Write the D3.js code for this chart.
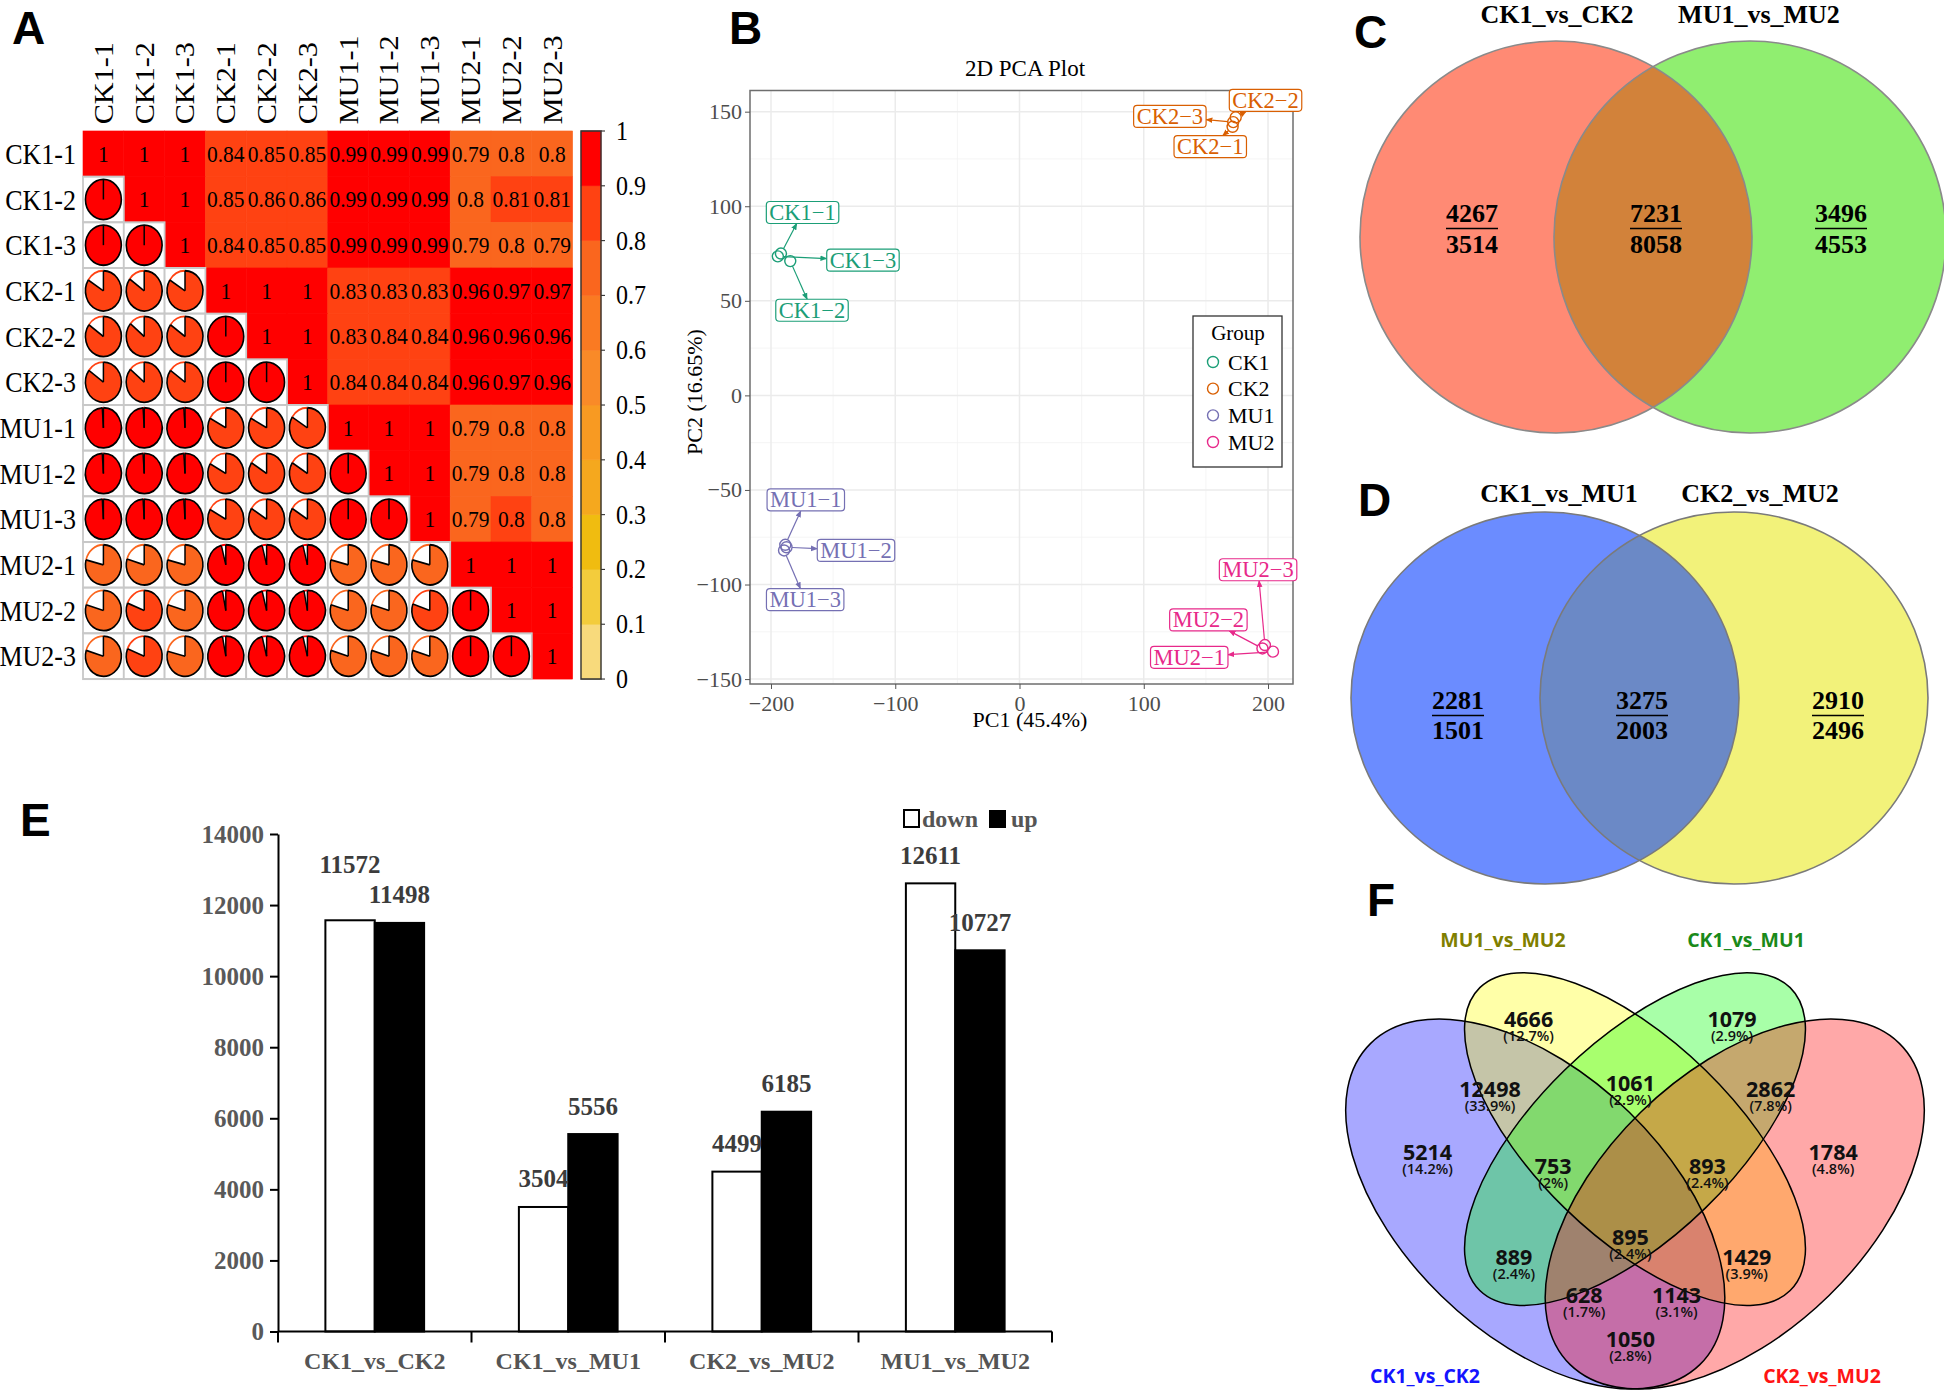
<!DOCTYPE html>
<html>
<head>
<meta charset="utf-8">
<script src="https://d3js.org/d3.v7.min.js"></script>
<style>html,body{margin:0;padding:0;background:#fff;} svg{display:block;}</style>
</head>
<body>
<svg id="fig" width="1944" height="1393" xmlns="http://www.w3.org/2000/svg"></svg>
<script>
// ======================= DATA =======================
// Panel A: sample correlation (upper triangle rows, row i starts at column i)
const samples = ["CK1-1","CK1-2","CK1-3","CK2-1","CK2-2","CK2-3","MU1-1","MU1-2","MU1-3","MU2-1","MU2-2","MU2-3"];
const corrUpper = [
  [1, 1, 1, 0.84, 0.85, 0.85, 0.99, 0.99, 0.99, 0.79, 0.797, 0.797],
  [1, 1, 0.85, 0.86, 0.86, 0.99, 0.99, 0.99, 0.797, 0.81, 0.81],
  [1, 0.84, 0.85, 0.85, 0.99, 0.99, 0.99, 0.79, 0.797, 0.79],
  [1, 1, 1, 0.83, 0.83, 0.83, 0.96, 0.97, 0.97],
  [1, 1, 0.83, 0.84, 0.84, 0.96, 0.96, 0.96],
  [1, 0.84, 0.84, 0.84, 0.96, 0.97, 0.96],
  [1, 1, 1, 0.79, 0.797, 0.797],
  [1, 1, 0.79, 0.797, 0.797],
  [1, 0.79, 0.803, 0.797],
  [1, 1, 1],
  [1, 1],
  [1]
];
const colorBreaks = [0.1, 0.2, 0.3, 0.4, 0.5, 0.6, 0.7, 0.8, 0.9];
const colorBins = ["#F8DA7C","#F3CC3C","#F0BC10","#F5A81E","#F89A22","#F98A28","#FA7A22","#FA661E","#FF4212","#FF0000"];
const colorbarTicks = [0, 0.1, 0.2, 0.3, 0.4, 0.5, 0.6, 0.7, 0.8, 0.9, 1];

// Panel B: PCA
const pcaSamples = ["CK1-1","CK1-2","CK1-3","CK2-1","CK2-2","CK2-3","MU1-1","MU1-2","MU1-3","MU2-1","MU2-2","MU2-3"];
const pcaGroup   = ["CK1","CK1","CK1","CK2","CK2","CK2","MU1","MU1","MU1","MU2","MU2","MU2"];
const pc1 = [-192, -184.5, -194.5, 171.5, 174, 172, -188.5, -187.5, -189.5, 204, 195.5, 197.5];
const pc2 = [75, 71, 73.5, 142, 147, 144.5, -79, -80.3, -82, -135.5, -133.8, -132];
const pcaLabelX = [-174.6, -167, -126, 153.5, 198, 121, -172, -131.6, -172.5, 136.6, 152, 192];
const pcaLabelY = [96.7, 45, 71.5, 131.5, 156, 147.5, -55.3, -82, -108, -138.5, -118.7, -92.2];
const groups = ["CK1","CK2","MU1","MU2"];
const groupColors = ["#1B9E77","#D95F02","#7570B3","#E7298A"];
const pcaXTicks = [-200, -100, 0, 100, 200];
const pcaYTicks = [-150, -100, -50, 0, 50, 100, 150];

// Panel C / D: two-set Venn (upper = first count, lower = second count)
const vennCSets = ["CK1_vs_CK2","MU1_vs_MU2"];
const vennCUpper = [4267, 7231, 3496];
const vennCLower = [3514, 8058, 4553];
const vennDSets = ["CK1_vs_MU1","CK2_vs_MU2"];
const vennDUpper = [2281, 3275, 2910];
const vennDLower = [1501, 2003, 2496];

// Panel E: DEG counts
const deCats = ["CK1_vs_CK2","CK1_vs_MU1","CK2_vs_MU2","MU1_vs_MU2"];
const deSeries = ["down","up"];
const downCounts = [11572, 3504, 4499, 12611];
const upCounts = [11498, 5556, 6185, 10727];
const deTicks = [0, 2000, 4000, 6000, 8000, 10000, 12000, 14000];

// Panel F: four-set Venn
const vennFSets = ["CK1_vs_CK2","MU1_vs_MU2","CK1_vs_MU1","CK2_vs_MU2"];
const vennFRegions = ["A","B","C","D","AB","BC","CD","AC","BD","ABC","BCD","ACD","ABD","ABCD","AD"];
const vennFCounts  = [5214, 4666, 1079, 1784, 12498, 1061, 2862, 889, 1429, 753, 893, 628, 1143, 895, 1050];
const vennFPercent = ["14.2%","12.7%","2.9%","4.8%","33.9%","2.9%","7.8%","2.4%","3.9%","2%","2.4%","1.7%","3.1%","2.4%","2.8%"];

// ======================= DRAW =======================
const svg = d3.select("#fig");
const SERIF = "'Liberation Serif','Times New Roman',serif";
const SANS = "'Open Sans','Noto Sans',sans-serif";
const LETTER = "'Liberation Sans','Arial',sans-serif";
svg.append("rect").attr("width",1944).attr("height",1393).attr("fill","#fff");

function panelLetter(t, x, y) {
  svg.append("text").attr("x", x).attr("y", y).text(t)
    .attr("font-family", LETTER).attr("font-weight", 700).attr("font-size", 46).attr("fill", "#000");
}
panelLetter("A", 12, 44); panelLetter("B", 729, 44); panelLetter("C", 1354, 48);
panelLetter("D", 1358, 516); panelLetter("E", 20, 836); panelLetter("F", 1367, 916);

// ---------- Panel A ----------
(function () {
  const cs = 40.8, sy = 45.67 / 40.8, n = samples.length;
  const g = svg.append("g").attr("transform", `translate(83,131) scale(1,${sy})`);
  const color = d3.scaleThreshold().domain(colorBreaks).range(colorBins);
  const xA = d3.scaleBand().domain(samples).range([0, n * cs]);
  const yA = d3.scaleBand().domain(samples).range([0, n * cs]);
  const cells = [];
  for (let i = 0; i < n; i++) for (let j = 0; j < n; j++) {
    const v = i <= j ? corrUpper[i][j - i] : corrUpper[j][i - j];
    cells.push({ i, j, v, upper: j >= i });
  }
  const up = cells.filter(c => c.upper), low = cells.filter(c => !c.upper);
  g.selectAll("rect.up").data(up).join("rect").attr("class", "up")
    .attr("x", c => xA(samples[c.j])).attr("y", c => yA(samples[c.i]))
    .attr("width", cs).attr("height", cs)
    .attr("fill", c => color(c.v)).attr("stroke", c => color(c.v)).attr("stroke-width", 0.6);
  g.selectAll("rect.low").data(low).join("rect").attr("class", "low")
    .attr("x", c => xA(samples[c.j])).attr("y", c => yA(samples[c.i]))
    .attr("width", cs).attr("height", cs)
    .attr("fill", "#fff").attr("stroke", "#c8c8c8").attr("stroke-width", 1.8);
  g.selectAll("text.val").data(up).join("text").attr("class", "val")
    .attr("x", c => xA(samples[c.j]) + cs / 2).attr("y", c => yA(samples[c.i]) + cs / 2)
    .attr("text-anchor", "middle").attr("dominant-baseline", "central")
    .attr("font-family", SERIF).attr("font-size", 21.5).attr("fill", "#000")
    .text(c => String(+c.v.toFixed(2)));
  const R = cs * 0.44;
  const arcFill = d3.arc().innerRadius(0).outerRadius(R);
  const pt = a => [R * Math.sin(a), -R * Math.cos(a)];
  const arcPath = (a0, a1) => {
    const p0 = pt(a0), p1 = pt(a1);
    return `M${p0[0]},${p0[1]}A${R},${R} 0 ${a1 - a0 > Math.PI ? 1 : 0} 1 ${p1[0]},${p1[1]}`;
  };
  const pies = g.selectAll("g.pie").data(low).join("g").attr("class", "pie")
    .attr("transform", c => `translate(${xA(samples[c.j]) + cs / 2},${yA(samples[c.i]) + cs / 2})`);
  pies.each(function (c) {
    const pg = d3.select(this), col = color(c.v), a = c.v * 2 * Math.PI;
    pg.append("circle").attr("r", R).attr("fill", "#fff");
    if (c.v >= 1) {
      pg.append("circle").attr("r", R).attr("fill", col).attr("stroke", "#000").attr("stroke-width", 1.6);
    } else {
      pg.append("path").attr("d", arcFill({ startAngle: 0, endAngle: a })).attr("fill", col);
      pg.append("path").attr("d", arcPath(a, 2 * Math.PI)).attr("fill", "none").attr("stroke", col).attr("stroke-width", 1.6);
      pg.append("path").attr("d", arcPath(0, a)).attr("fill", "none").attr("stroke", "#000").attr("stroke-width", 1.6);
      const p = pt(a);
      pg.append("line").attr("x1", 0).attr("y1", 0).attr("x2", p[0]).attr("y2", p[1]).attr("stroke", "#000").attr("stroke-width", 1.5);
    }
    pg.append("line").attr("x1", 0).attr("y1", 0).attr("x2", 0).attr("y2", -R).attr("stroke", "#000").attr("stroke-width", 1.5);
  });
  g.selectAll("text.row").data(samples).join("text").attr("class", "row")
    .attr("x", -7).attr("y", d => yA(d) + cs / 2)
    .attr("text-anchor", "end").attr("dominant-baseline", "central")
    .attr("font-family", SERIF).attr("font-size", 26).text(d => d);
  g.selectAll("text.col").data(samples).join("text").attr("class", "col")
    .attr("transform", d => `translate(${xA(d) + cs / 2},-6) rotate(-90)`)
    .attr("text-anchor", "start").attr("dominant-baseline", "central")
    .attr("font-family", SERIF).attr("font-size", 27).text(d => d);
  const cb = g.append("g").attr("transform", "translate(498,0)");
  const yC = d3.scaleLinear().domain([0, 1]).range([n * cs, 0]);
  const bands = d3.range(colorBins.length).map(k => ({ lo: k === 0 ? 0 : colorBreaks[k - 1], hi: k === colorBins.length - 1 ? 1 : colorBreaks[k], c: colorBins[k] }));
  cb.selectAll("rect.band").data(bands).join("rect").attr("class", "band")
    .attr("x", 0).attr("width", 20).attr("y", d => yC(d.hi)).attr("height", d => yC(d.lo) - yC(d.hi))
    .attr("fill", d => d.c).attr("stroke", d => d.c).attr("stroke-width", 0.5);
  cb.append("rect").attr("x", 0).attr("y", 0).attr("width", 20).attr("height", n * cs)
    .attr("fill", "none").attr("stroke", "#333").attr("stroke-width", 1.4);
  cb.selectAll("line.tk").data(colorbarTicks).join("line").attr("class", "tk")
    .attr("x1", 20).attr("x2", 24).attr("y1", d => yC(d)).attr("y2", d => yC(d)).attr("stroke", "#333").attr("stroke-width", 1);
  cb.selectAll("text.tk").data(colorbarTicks).join("text").attr("class", "tk")
    .attr("x", 35).attr("y", d => yC(d)).attr("dominant-baseline", "central")
    .attr("font-family", SERIF).attr("font-size", 24).text(d => String(d));
})();

// ---------- Panel B ----------
(function () {
  const xB = d3.scaleLinear().domain([-216.9, 220.1]).range([750, 1293]);
  const yB = d3.scaleLinear().domain([-152.6, 161.2]).range([684, 90.5]);
  const gB = svg.append("g");
  const colorOf = d3.scaleOrdinal().domain(groups).range(groupColors);
  gB.append("text").attr("x", 1025).attr("y", 68).attr("text-anchor", "middle").attr("dominant-baseline", "central")
    .attr("font-family", SERIF).attr("font-size", 23).text("2D PCA Plot");
  const minorX = pcaXTicks.slice(1).map((t, k) => (t + pcaXTicks[k]) / 2);
  const minorY = pcaYTicks.slice(1).map((t, k) => (t + pcaYTicks[k]) / 2);
  gB.selectAll("line.mx").data(minorX).join("line").attr("class", "mx")
    .attr("x1", d => xB(d)).attr("x2", d => xB(d)).attr("y1", 90.5).attr("y2", 684).attr("stroke", "#f3f3f3").attr("stroke-width", 0.8);
  gB.selectAll("line.my").data(minorY).join("line").attr("class", "my")
    .attr("y1", d => yB(d)).attr("y2", d => yB(d)).attr("x1", 750).attr("x2", 1293).attr("stroke", "#f3f3f3").attr("stroke-width", 0.8);
  gB.selectAll("line.gx").data(pcaXTicks).join("line").attr("class", "gx")
    .attr("x1", d => xB(d)).attr("x2", d => xB(d)).attr("y1", 90.5).attr("y2", 684).attr("stroke", "#ebebeb").attr("stroke-width", 1.5);
  gB.selectAll("line.gy").data(pcaYTicks).join("line").attr("class", "gy")
    .attr("y1", d => yB(d)).attr("y2", d => yB(d)).attr("x1", 750).attr("x2", 1293).attr("stroke", "#ebebeb").attr("stroke-width", 1.5);
  gB.append("rect").attr("x", 750).attr("y", 90.5).attr("width", 543).attr("height", 593.5)
    .attr("fill", "none").attr("stroke", "#6e6e6e").attr("stroke-width", 1.5);
  const ax = gB.append("g").attr("transform", "translate(0,684)")
    .call(d3.axisBottom(xB).tickValues(pcaXTicks).tickSize(5).tickSizeOuter(0));
  const ay = gB.append("g").attr("transform", "translate(750,0)")
    .call(d3.axisLeft(yB).tickValues(pcaYTicks).tickSize(5).tickSizeOuter(0));
  [ax, ay].forEach(a => {
    a.select(".domain").remove();
    a.selectAll(".tick line").attr("stroke", "#555");
    a.selectAll(".tick text").attr("font-family", SERIF).attr("font-size", 22).attr("fill", "#4d4d4d");
  });
  ax.selectAll(".tick text").attr("dy", "0.85em");
  gB.append("text").attr("x", 1030).attr("y", 719).attr("text-anchor", "middle").attr("dominant-baseline", "central")
    .attr("font-family", SERIF).attr("font-size", 22).text("PC1 (45.4%)");
  gB.append("text").attr("transform", "translate(694,392) rotate(-90)").attr("text-anchor", "middle").attr("dominant-baseline", "central")
    .attr("font-family", SERIF).attr("font-size", 22).text("PC2 (16.65%)");
  const defs = svg.append("defs");
  groups.forEach((gname, k) => {
    defs.append("marker").attr("id", "arr" + gname).attr("viewBox", "0 0 10 10").attr("refX", 9).attr("refY", 5)
      .attr("markerWidth", 7).attr("markerHeight", 7).attr("markerUnits", "userSpaceOnUse").attr("orient", "auto")
      .append("path").attr("d", "M0,1 L10,5 L0,9 z").attr("fill", groupColors[k]);
  });
  const segG = gB.append("g"), ptG = gB.append("g"), labG = gB.append("g");
  pcaSamples.forEach((s, k) => {
    const col = colorOf(pcaGroup[k]);
    const px = xB(pc1[k]), py = yB(pc2[k]);
    const lx = xB(pcaLabelX[k]), ly = yB(pcaLabelY[k]);
    const t = labG.append("text").attr("x", lx).attr("y", ly).attr("text-anchor", "middle").attr("dominant-baseline", "central")
      .attr("font-family", SERIF).attr("font-size", 22.5).attr("fill", col).text(s.replace("-", "\u2212"));
    const tw = t.node().getComputedTextLength();
    const hw = tw / 2 + 3, hh = 11;
    labG.insert("rect", () => t.node()).attr("x", lx - hw).attr("y", ly - hh).attr("width", 2 * hw).attr("height", 2 * hh)
      .attr("rx", 3.5).attr("fill", "#fff").attr("stroke", col).attr("stroke-width", 1.2);
    const dx = lx - px, dy = ly - py;
    const sc = Math.min(Math.abs(dx) > 1e-6 ? hw / Math.abs(dx) : Infinity, Math.abs(dy) > 1e-6 ? hh / Math.abs(dy) : Infinity);
    if (sc < 1) {
      const ex = lx - dx * sc, ey = ly - dy * sc;
      const ddx = ex - px, ddy = ey - py, d = Math.hypot(ddx, ddy);
      if (d > 9) {
        segG.append("line").attr("x1", px + ddx / d * 5.5).attr("y1", py + ddy / d * 5.5).attr("x2", ex).attr("y2", ey)
          .attr("stroke", col).attr("stroke-width", 1.2).attr("marker-end", `url(#arr${pcaGroup[k]})`);
      }
    }
    ptG.append("circle").attr("cx", px).attr("cy", py).attr("r", 5.5).attr("fill", "none").attr("stroke", col).attr("stroke-width", 1.4);
  });
  const lg = gB.append("g");
  lg.append("rect").attr("x", 1193).attr("y", 316).attr("width", 89).attr("height", 151)
    .attr("fill", "#fff").attr("stroke", "#333").attr("stroke-width", 1.3);
  lg.append("text").attr("x", 1238).attr("y", 333).attr("text-anchor", "middle").attr("dominant-baseline", "central")
    .attr("font-family", SERIF).attr("font-size", 21).text("Group");
  const ly0 = d3.scalePoint().domain(groups).range([362, 442]);
  lg.selectAll("circle").data(groups).join("circle").attr("cx", 1213).attr("cy", d => ly0(d)).attr("r", 5.5)
    .attr("fill", "none").attr("stroke", d => colorOf(d)).attr("stroke-width", 1.4);
  lg.selectAll("text.it").data(groups).join("text").attr("class", "it").attr("x", 1228).attr("y", d => ly0(d))
    .attr("dominant-baseline", "central").attr("font-family", SERIF).attr("font-size", 22).text(d => d);
})();

// ---------- Panels C & D (two-set Venn) ----------
function twoVenn(id, sets, upper, lower, geo, cols) {
  const g = svg.append("g");
  const defs = svg.append("defs");
  const ell = (sel, cx) => sel.append("ellipse").attr("cx", cx).attr("cy", geo.cy).attr("rx", geo.rx).attr("ry", geo.ry);
  ell(defs.append("clipPath").attr("id", "clip" + id), geo.cx1);
  ell(g, geo.cx1).attr("fill", cols[0]);
  ell(g, geo.cx2).attr("fill", cols[1]);
  ell(g, geo.cx2).attr("fill", cols[2]).attr("clip-path", `url(#clip${id})`);
  ell(g, geo.cx1).attr("fill", "none").attr("stroke", geo.stroke).attr("stroke-width", 1.6);
  ell(g, geo.cx2).attr("fill", "none").attr("stroke", geo.stroke).attr("stroke-width", 1.6);
  sets.forEach((s, k) => {
    g.append("text").attr("x", geo.tx[k]).attr("y", geo.ty).attr("text-anchor", "middle").attr("dominant-baseline", "central")
      .attr("font-family", SERIF).attr("font-weight", 700).attr("font-size", 26).text(s);
  });
  upper.forEach((u, k) => {
    const x = geo.nx[k];
    const t1 = g.append("text").attr("x", x).attr("y", geo.ny1).attr("text-anchor", "middle").attr("dominant-baseline", "central")
      .attr("font-family", SERIF).attr("font-weight", 700).attr("font-size", 26).text(u);
    g.append("text").attr("x", x).attr("y", geo.ny2).attr("text-anchor", "middle").attr("dominant-baseline", "central")
      .attr("font-family", SERIF).attr("font-weight", 700).attr("font-size", 26).text(lower[k]);
    const w = t1.node().getComputedTextLength();
    g.append("line").attr("x1", x - w / 2).attr("x2", x + w / 2).attr("y1", geo.nl).attr("y2", geo.nl)
      .attr("stroke", "#000").attr("stroke-width", 1.6);
  });
}
twoVenn("C", vennCSets, vennCUpper, vennCLower,
  { cx1: 1556, cx2: 1750, cy: 237, rx: 196, ry: 196, tx: [1557, 1759], ty: 14, nx: [1472, 1656, 1841], ny1: 213, ny2: 244, nl: 228.5, stroke: "#8a8a8a" },
  ["#FF8A74", "#90EE70", "#D2823A"]);
twoVenn("D", vennDSets, vennDUpper, vennDLower,
  { cx1: 1545, cx2: 1734, cy: 698, rx: 194, ry: 186, tx: [1559, 1760], ty: 493, nx: [1458, 1642, 1838], ny1: 700, ny2: 730, nl: 715.5, stroke: "#7a7a7a" },
  ["#6B8CFF", "#F2F27A", "#6B89C6"]);

// ---------- Panel E ----------
(function () {
  const gE = svg.append("g");
  const xE = d3.scaleBand().domain(deCats).range([278, 1052]);
  const xE2 = d3.scaleBand().domain(deSeries).range([0, xE.bandwidth()]).paddingInner(0).paddingOuter(0.96);
  const yE = d3.scaleLinear().domain([0, 14000]).range([1331.5, 834]);
  const rows = deCats.map((c, k) => ({ c, vals: [{ s: "down", v: downCounts[k] }, { s: "up", v: upCounts[k] }] }));
  const flat = rows.flatMap(r => r.vals.map(v => ({ c: r.c, s: v.s, v: v.v })));
  gE.selectAll("rect.bar").data(flat).join("rect").attr("class", "bar")
    .attr("x", d => xE(d.c) + xE2(d.s)).attr("width", xE2.bandwidth())
    .attr("y", d => yE(d.v)).attr("height", d => yE(0) - yE(d.v))
    .attr("fill", d => d.s === "down" ? "#fff" : "#000").attr("stroke", "#000").attr("stroke-width", 2);
  gE.selectAll("text.vl").data(flat).join("text").attr("class", "vl")
    .attr("x", d => xE(d.c) + xE2(d.s) + xE2.bandwidth() / 2)
    .attr("y", (d, i) => yE(d.v) - ((d.s === "down" && Math.abs(d.v - flat[i + 1].v) < 1000 && d.v > flat[i + 1].v) ? 56 : 28))
    .attr("text-anchor", "middle").attr("dominant-baseline", "central")
    .attr("font-family", SERIF).attr("font-weight", 700).attr("font-size", 25).attr("fill", "#3c3c3c").text(d => d.v);
  const ay = gE.append("g").attr("transform", "translate(278,0)")
    .call(d3.axisLeft(yE).tickValues(deTicks).tickSize(8).tickSizeOuter(0).tickPadding(6).tickFormat(d3.format("d")));
  ay.select(".domain").attr("stroke", "#000").attr("stroke-width", 2);
  ay.selectAll(".tick line").attr("stroke", "#000").attr("stroke-width", 2);
  ay.selectAll(".tick text").attr("font-family", SERIF).attr("font-weight", 700).attr("font-size", 25).attr("fill", "#595959");
  gE.append("line").attr("x1", 278).attr("x2", 1052).attr("y1", yE(0)).attr("y2", yE(0)).attr("stroke", "#000").attr("stroke-width", 2);
  const bounds = deCats.map(c => xE(c)).concat([xE.range()[1]]);
  gE.selectAll("line.bt").data(bounds).join("line").attr("class", "bt")
    .attr("x1", d => d).attr("x2", d => d).attr("y1", yE(0)).attr("y2", yE(0) + 11).attr("stroke", "#000").attr("stroke-width", 2);
  gE.selectAll("text.cat").data(deCats).join("text").attr("class", "cat")
    .attr("x", d => xE(d) + xE.bandwidth() / 2).attr("y", 1361).attr("text-anchor", "middle").attr("dominant-baseline", "central")
    .attr("font-family", SERIF).attr("font-weight", 700).attr("font-size", 24).attr("fill", "#555").text(d => d);
  gE.append("rect").attr("x", 904).attr("y", 810).attr("width", 15).attr("height", 17).attr("fill", "#fff").attr("stroke", "#000").attr("stroke-width", 2);
  gE.append("text").attr("x", 922).attr("y", 819).attr("dominant-baseline", "central").attr("font-family", SERIF).attr("font-weight", 700)
    .attr("font-size", 24).attr("fill", "#555").text("down");
  gE.append("rect").attr("x", 989).attr("y", 810).attr("width", 17).attr("height", 18).attr("fill", "#000");
  gE.append("text").attr("x", 1011).attr("y", 819).attr("dominant-baseline", "central").attr("font-family", SERIF).attr("font-weight", 700)
    .attr("font-size", 24).attr("fill", "#555").text("up");
})();

// ---------- Panel F (four-set Venn) ----------
(function () {
  const sx = 665, sy = 649, X0 = 1302.5, Y0 = 1509;
  const px = u => X0 + u * sx, py = v => Y0 - v * sy;
  const ell = [
    { cx: 0.35, cy: 0.47, a: 0.35, b: 0.20, rot: 45, col: "#0000FF" },
    { cx: 0.50, cy: 0.57, a: 0.33, b: 0.15, rot: 45, col: "#FFFF00" },
    { cx: 0.50, cy: 0.57, a: 0.33, b: 0.15, rot: -45, col: "#00FF00" },
    { cx: 0.65, cy: 0.47, a: 0.35, b: 0.20, rot: -45, col: "#FF0000" }
  ];
  const gF = svg.append("g");
  const gU = gF.append("g").attr("transform", `translate(${X0},${Y0}) scale(${sx},${-sy})`);
  const drawE = (sel, e) => sel.append("ellipse").attr("cx", e.cx).attr("cy", e.cy).attr("rx", e.a).attr("ry", e.b)
    .attr("transform", `rotate(${-e.rot},${e.cx},${e.cy})`);
  ell.forEach(e => drawE(gU, e).attr("fill", e.col).attr("fill-opacity", 0.34));
  ell.forEach(e => drawE(gU, e).attr("fill", "none").attr("stroke", "#000").attr("stroke-width", 1.5).attr("vector-effect", "non-scaling-stroke"));
  const mid = 0.493;
  const layout = {
    A: [mid - 0.305, 0.551], B: [mid - 0.153, 0.756], C: [mid + 0.153, 0.756], D: [mid + 0.305, 0.551],
    AB: [mid - 0.211, 0.648], BC: [mid, 0.657], CD: [mid + 0.211, 0.648], AC: [mid - 0.175, 0.389], BD: [mid + 0.175, 0.389],
    ABC: [mid - 0.116, 0.529], BCD: [mid + 0.116, 0.529], ACD: [mid - 0.0695, 0.33], ABD: [mid + 0.0695, 0.33], ABCD: [mid, 0.42], AD: [mid, 0.262]
  };
  vennFRegions.forEach((r, k) => {
    const [u, v] = layout[r];
    gF.append("text").attr("x", px(u)).attr("y", py(v)).attr("text-anchor", "middle").attr("dominant-baseline", "central")
      .attr("font-family", SANS).attr("font-weight", 700).attr("font-size", 21.5).attr("fill", "#111").text(vennFCounts[k]);
    gF.append("text").attr("x", px(u)).attr("y", py(v) + 17).attr("text-anchor", "middle").attr("dominant-baseline", "central")
      .attr("font-family", SANS).attr("font-weight", 600).attr("font-size", 14.5).attr("fill", "#111").text(`(${vennFPercent[k]})`);
  });
  const titlePos = [[1425, 1375], [1503, 939], [1746, 939], [1822, 1375]];
  const titleCol = ["#1414FF", "#7F7F00", "#1A8A1A", "#FF1414"];
  vennFSets.forEach((s, k) => {
    gF.append("text").attr("x", titlePos[k][0]).attr("y", titlePos[k][1]).attr("text-anchor", "middle").attr("dominant-baseline", "central")
      .attr("font-family", SANS).attr("font-weight", 700).attr("font-size", 19.5).attr("fill", titleCol[k]).text(s);
  });
})();
</script>
</body>
</html>
